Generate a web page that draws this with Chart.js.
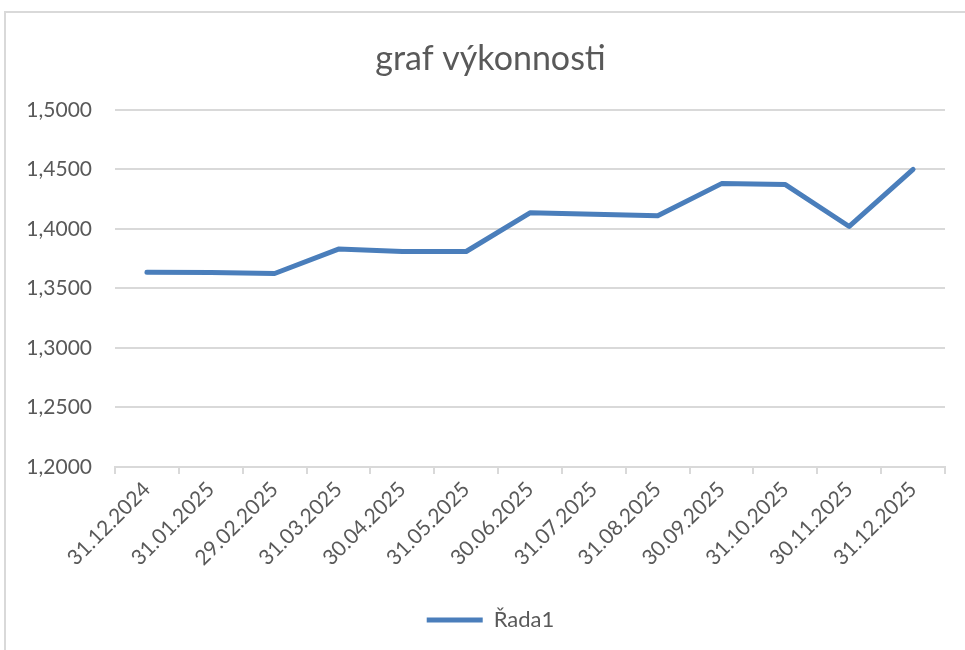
<!DOCTYPE html>
<html>
<head>
<meta charset="utf-8">
<script src="https://cdn.jsdelivr.net/npm/chart.js@4/dist/chart.umd.min.js"></script>
<style>
  html, body { margin: 0; padding: 0; background: #fff; overflow: hidden; }
  #frame {
    position: absolute; left: 4px; top: 11px;
    width: 1000px; height: 700px;
    border: 2px solid #d9d9d9;
  }
  #myChart { position: absolute; left: 0; top: 0; }
</style>
</head>
<body>
<div id="frame">
  <canvas id="myChart" width="959" height="637"></canvas>
</div>
<script>
// data
var labels = ["31.12.2024", "31.01.2025", "29.02.2025", "31.03.2025", "30.04.2025", "31.05.2025",
              "30.06.2025", "31.07.2025", "31.08.2025", "30.09.2025", "31.10.2025", "30.11.2025", "31.12.2025"];
var values = [1.3635, 1.3633, 1.3625, 1.3830, 1.3810, 1.3810,
              1.4135, 1.4122, 1.4110, 1.4380, 1.4372, 1.4020, 1.4500];
var seriesName = "Řada1";
var yMin = 1.2, yMax = 1.5, yStep = 0.05;

var textGrey = '#595959';
var gridGrey = '#d9d9d9';
var lineBlue = '#4a7ebb';
var font = "Lato, 'Open Sans', sans-serif";

// Excel centres title and legend on the whole frame, not just the canvas
var shiftBoxes = {
    id: 'shiftBoxes',
    afterLayout: function (chart) {
        [chart.titleBlock, chart.legend].forEach(function (b) {
            if (b) { b.left += 15; b.right += 15; }
        });
    }
};

var ctx = document.getElementById('myChart');
// eslint-disable-next-line
var myChart = new Chart(ctx, {
    type: 'line',
    data: {
        labels: labels,
        datasets: [{
            label: seriesName,
            data: values,
            borderColor: lineBlue,
            backgroundColor: lineBlue,
            borderWidth: 5,
            borderJoinStyle: 'round',
            borderCapStyle: 'round',
            pointRadius: 0,
            tension: 0,
            fill: false
        }]
    },
    options: {
        responsive: false,
        animation: false,
        layout: { padding: { left: 0, right: 20, top: 0, bottom: 9 } },
        plugins: {
            title: {
                display: true,
                text: 'graf výkonnosti',
                color: textGrey,
                font: { family: font, size: 34, weight: 'normal' },
                padding: { top: 26, bottom: 30 }
            },
            legend: {
                position: 'bottom',
                labels: {
                    color: textGrey,
                    font: { family: font, size: 22 },
                    usePointStyle: true,
                    pointStyle: 'line',
                    pointStyleWidth: 56,
                    padding: 10
                }
            },
            tooltip: { enabled: false }
        },
        scales: {
            x: {
                offset: true,
                grid: {
                    offset: true,
                    drawOnChartArea: false,
                    drawTicks: true,
                    tickLength: 7,
                    color: gridGrey,
                    lineWidth: 2
                },
                border: { color: gridGrey, width: 2 },
                ticks: {
                    color: textGrey,
                    font: { family: font, size: 21 },
                    minRotation: 45,
                    maxRotation: 45,
                    autoSkip: false,
                    padding: 3
                },
                afterFit: function (scale) { scale.height = 132; }
            },
            y: {
                min: yMin,
                max: yMax,
                grid: { color: gridGrey, lineWidth: 2, drawTicks: false },
                border: { display: false },
                ticks: {
                    stepSize: yStep,
                    color: textGrey,
                    font: { family: font, size: 21 },
                    padding: 23,
                    callback: function (v) { return v.toFixed(4).replace('.', ','); }
                },
                afterFit: function (scale) { scale.width = 109; }
            }
        }
    },
    plugins: [shiftBoxes]
});
</script>
</body>
</html>
